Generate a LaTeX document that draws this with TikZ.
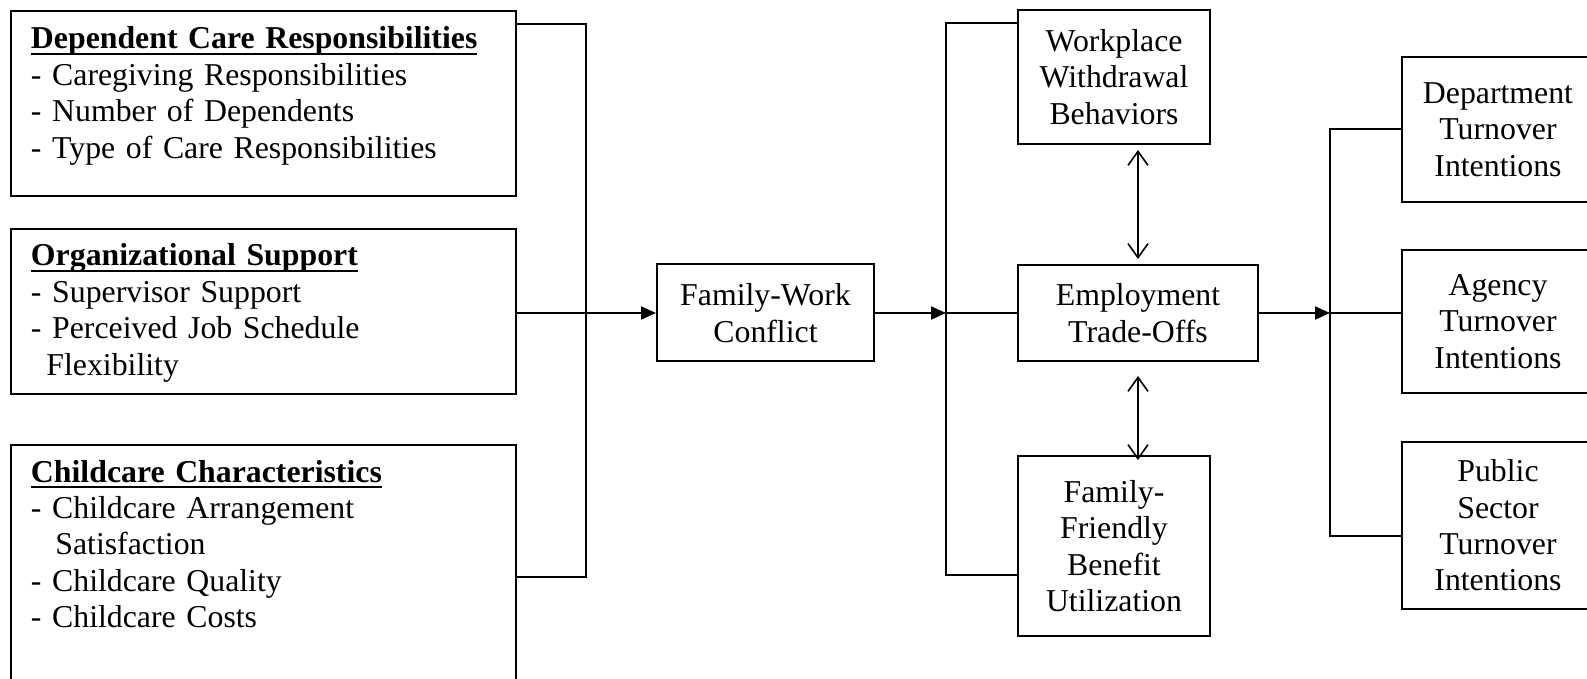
\documentclass[tikz,border=0pt]{standalone}
\usepackage{fontspec}
\setmainfont{Liberation Serif}
\usetikzlibrary{arrows.meta}
\newsavebox{\headbox}
\newcommand{\uhead}[1]{\sbox{\headbox}{\bfseries #1}\rlap{\usebox{\headbox}}\rule[-3pt]{\wd\headbox}{1pt}}

\begin{document}
\begin{tikzpicture}[x=0.5pt,y=-0.5pt,line width=1pt,
  box/.style={draw,line width=1pt,inner sep=0pt},
  factor/.style={anchor=base west,text width=235pt,align=left,inner sep=0pt},
  outcome/.style={box,align=center},
  flow/.style={-{Triangle[length=7.5pt,width=6.5pt]}},
  link/.style={{Straight Barb[length=7pt,width=10pt]}-{Straight Barb[length=7pt,width=10pt]},line width=0.8pt}]
\useasboundingbox (0,0) rectangle (1587,679);
\clip (0,0) rectangle (1587,679);
\fontsize{15.9pt}{18.2pt}\selectfont

\node[box,anchor=north west,minimum width=252.5pt,minimum height=92.5pt] (dep) at (10,10) {};
\node[box,anchor=north west,minimum width=252.5pt,minimum height=82.5pt] (org) at (10,228) {};
\node[box,anchor=north west,minimum width=252.5pt,minimum height=128pt] (cc) at (10,444) {};

\node[factor] (deptxt) at (30,49) {\uhead{Dependent Care Responsibilities}\\- Caregiving Responsibilities\\- Number of Dependents\\- Type of Care Responsibilities};
\node[factor] (orgtxt) at (30,266) {\uhead{Organizational Support}\\- Supervisor Support\\- Perceived Job Schedule\\\hspace*{7.7pt}Flexibility};
\node[factor] (cctxt) at (30,482) {\uhead{Childcare Characteristics}\\- Childcare Arrangement\\\hspace*{12.2pt}Satisfaction\\- Childcare Quality\\- Childcare Costs};

\node[outcome,minimum width=108.5pt,minimum height=48.5pt] (fwc) at (765.5,313) {Family-Work\\Conflict};

\node[outcome,minimum width=96pt,minimum height=67pt] (wwb) at (1114,77) {Workplace\\Withdrawal\\Behaviors};
\node[outcome,minimum width=120pt,minimum height=48pt] (eto) at (1138,313) {Employment\\Trade-Offs};
\node[outcome,minimum width=96pt,minimum height=90pt] (ffb) at (1114,546) {Family-\\Friendly\\Benefit\\Utilization};

\node[outcome,minimum width=96pt,minimum height=72.5pt] (dto) at (1498,129.5) {Department\\Turnover\\Intentions};
\node[outcome,minimum width=96pt,minimum height=71.5pt] (ato) at (1498,321.5) {Agency\\Turnover\\Intentions};
\node[outcome,minimum width=96pt,minimum height=83.5pt] (pto) at (1498,525.5) {Public\\Sector\\Turnover\\Intentions};

\coordinate (lj) at (586,313);
\coordinate (rj) at (946,313);
\coordinate (tj) at (1330,313);

\draw ([yshift=-7pt]dep.north east) -| (lj);
\draw ([yshift=-66.5pt]cc.north east) -| (lj);
\draw (org.east |- lj) -- (lj);
\draw[flow] (lj) -- (fwc.west);

\draw[flow] (fwc.east) -- (rj);
\draw ([yshift=-7pt]wwb.north west) -| (rj);
\draw ([yshift=-60pt]ffb.north west) -| (rj);
\draw (rj) -- (eto.west);
\draw[link,shorten <=2.5pt,shorten >=2.5pt] (eto.north |- wwb.south) -- (eto.north);
\draw[link,shorten <=7pt,shorten >=-2.5pt] (eto.south) -- (eto.south |- ffb.north);

\draw[flow] (eto.east) -- (tj);
\draw (dto.west) -| (tj);
\draw (tj) |- ([yshift=-47.5pt]pto.north west);
\draw (tj) -- (tj -| ato.west);

\end{tikzpicture}
\end{document}
